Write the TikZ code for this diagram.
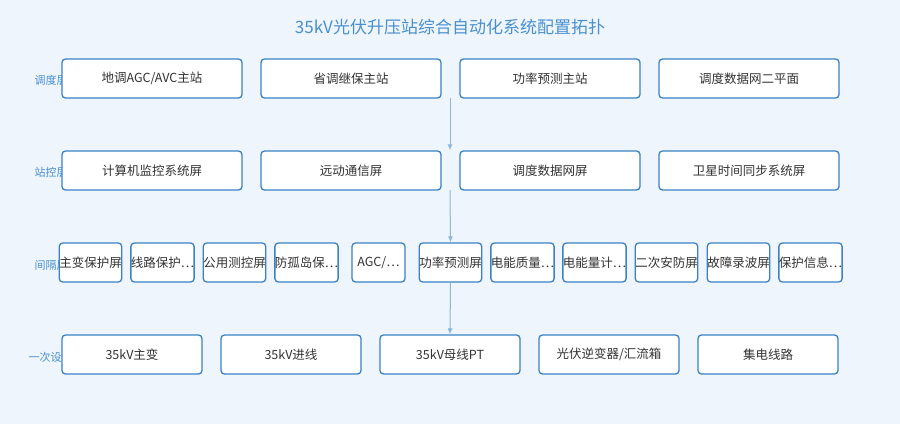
\documentclass[tikz,border=0pt]{standalone}
\usepackage{fontspec}
\setmainfont{Noto Sans CJK SC}
\usetikzlibrary{positioning,arrows.meta}
\definecolor{bgblue}{HTML}{EEF5FC}
\definecolor{boxblue}{HTML}{3A82C4}
\definecolor{arrblue}{HTML}{8AB8DD}
\definecolor{lblblue}{HTML}{4A90D0}
\definecolor{txtgray}{HTML}{333333}
\begin{document}
\begin{tikzpicture}[x=1pt,y=-1pt,>=latex,
  box/.style={draw=boxblue,line width=1.3pt,fill=white,rounded corners=3.5pt,inner sep=0pt,text=txtgray,font=\fontsize{12.5}{14}\selectfont},
  wide box/.style={box,minimum width=180pt,minimum height=39pt},
  mid box/.style={box,minimum width=140pt,minimum height=39pt},
  small box/.style={box,minimum width=53pt,minimum height=39pt},
  layer label/.style={anchor=west,text=lblblue,font=\fontsize{11}{12}\selectfont},
  flow/.style={-{Latex[length=6pt,width=5pt]},draw=arrblue,line width=1pt}]
\fill[bgblue] (0,0) rectangle (900,424);
\useasboundingbox (0,0) rectangle (900,424);
\node[text=lblblue,font=\fontsize{17}{20}\selectfont] (title) at (450,27) {35kV光伏升压站综合自动化系统配置拓扑};
% layer labels (partly hidden by the boxes)
\node[layer label] (l1) at (31,80) {调度层};
\node[layer label] (l2) at (31,172) {站控层};
\node[layer label] (l3) at (31,265) {间隔层};
\node[layer label] (l4) at (25,357) {一次设备};
% dispatch layer
\foreach \t [count=\i] in {地调AGC/AVC主站,省调继保主站,功率预测主站,调度数据网二平面}
  \node[wide box] (d\i) at (152+199*\i-199,78.5) {\t};
% station layer
\foreach \t [count=\i] in {计算机监控系统屏,远动通信屏,调度数据网屏,卫星时间同步系统屏}
  \node[wide box] (s\i) at (152+199*\i-199,170.5) {\t};
% bay layer
\foreach \t [count=\i] in {主变保护屏,线路保护\ldots,公用测控屏,防孤岛保\ldots,AGC/\ldots,功率预测屏,电能质量\ldots,电能量计\ldots,二次安防屏,故障录波屏,保护信息\ldots}
  \node[small box] (b\i) at (90.5+72*\i-72,262.5) {\t};
% primary equipment
\foreach \t [count=\i] in {35kV主变,35kV进线,35kV母线PT,光伏逆变器/汇流箱,集电线路}
  \node[mid box] (p\i) at (132+159*\i-159,354.5) {\t};
% connectors
\coordinate (c1) at (450,98);
\coordinate (c2) at (450,190);
\draw[flow] (c1) -- (c1 |- s3.north);
\draw[flow] (c2) -- (b6.north);
\draw[flow] (b6.south) -- (p3.north);
\end{tikzpicture}
\end{document}
